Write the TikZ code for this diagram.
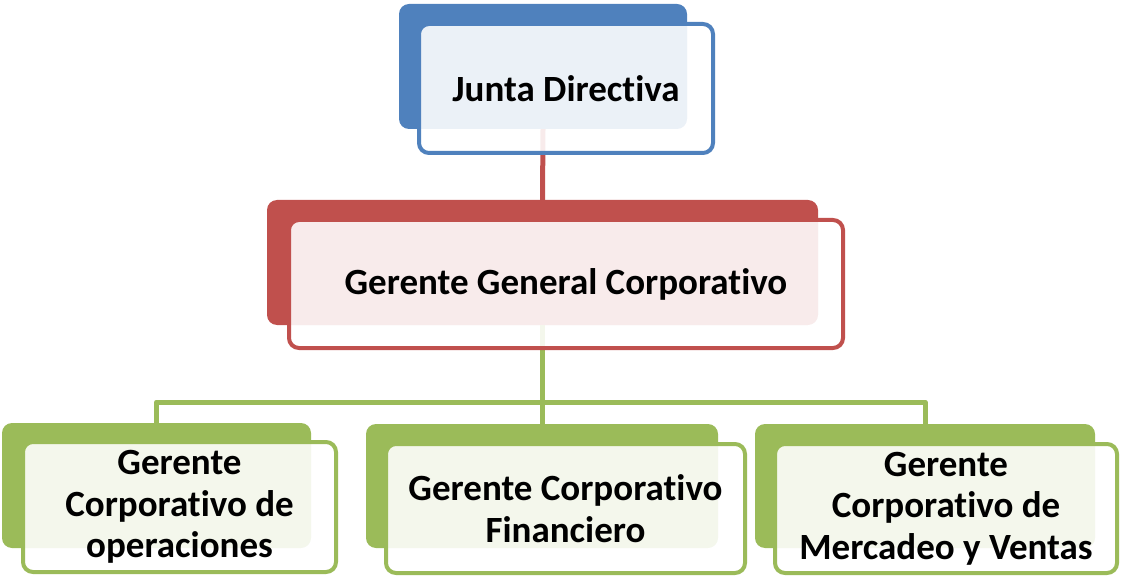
\documentclass[tikz,border=0pt]{standalone}
\usepackage{fontspec}
\setmainfont[RawFeature={-liga;-clig;-calt;-dlig}]{Carlito}
\definecolor{cblue}{HTML}{4F81BD}
\definecolor{cred}{HTML}{C0504D}
\definecolor{cgreen}{HTML}{9BBB59}
\tikzset{
  backbox/.style={rectangle, rounded corners=10pt, fill=#1, draw=none, inner sep=0pt},
  frontbox/.style={rectangle, rounded corners=10pt, draw=#1, line width=4pt,
     fill=white, fill opacity=0.89, text opacity=1, inner sep=0pt, align=center,
     font=\bfseries\fontsize{37}{41.5}\selectfont},
  conn/.style={draw=#1, line width=5pt}
}
\begin{document}
\begin{tikzpicture}[x=1pt,y=-1pt]
\useasboundingbox (0,0) rectangle (1121,577);
% back boxes
\node[backbox=cblue, minimum width=288pt, minimum height=125pt] (jb) at (543,66.5) {};
\node[backbox=cred, minimum width=551pt, minimum height=125pt] (gb) at (542.5,262.5) {};
\node[backbox=cgreen, minimum width=309pt, minimum height=125pt] (lb) at (156.5,485.5) {};
\node[backbox=cgreen, minimum width=352pt, minimum height=124pt] (mb) at (542,486) {};
\node[backbox=cgreen, minimum width=340pt, minimum height=124pt] (rb) at (925,486) {};
% connectors
\coordinate (bus) at (0,402);
\draw[conn=cred] (jb.south) -- (gb.north);
\draw[conn=cgreen] (gb.south) -- (gb.south |- bus);
\draw[conn=cgreen, line join=round] (lb.north) -- (lb.north |- bus) -- (rb.north |- bus) -- (rb.north);
\draw[conn=cgreen] (mb.north |- bus) -- (mb.north);
% front boxes
\node[frontbox=cblue, minimum width=294pt, minimum height=129pt] (jf) at (566,88.5) {Junta Directiva};
\node[frontbox=cred, minimum width=554pt, minimum height=128pt] (gf) at (566,284) {Gerente General Corporativo};
\node[frontbox=cgreen, minimum width=313pt, minimum height=130pt] (lf) at (179.5,507) {Gerente\\Corporativo de\\operaciones};
\node[frontbox=cgreen, minimum width=359pt, minimum height=129pt] (mf) at (565.5,508.5) {Gerente Corporativo\\Financiero};
\node[frontbox=cgreen, minimum width=342pt, minimum height=129pt] (rf) at (946,508.5) {Gerente\\Corporativo de\\Mercadeo y Ventas};
\end{tikzpicture}
\end{document}
